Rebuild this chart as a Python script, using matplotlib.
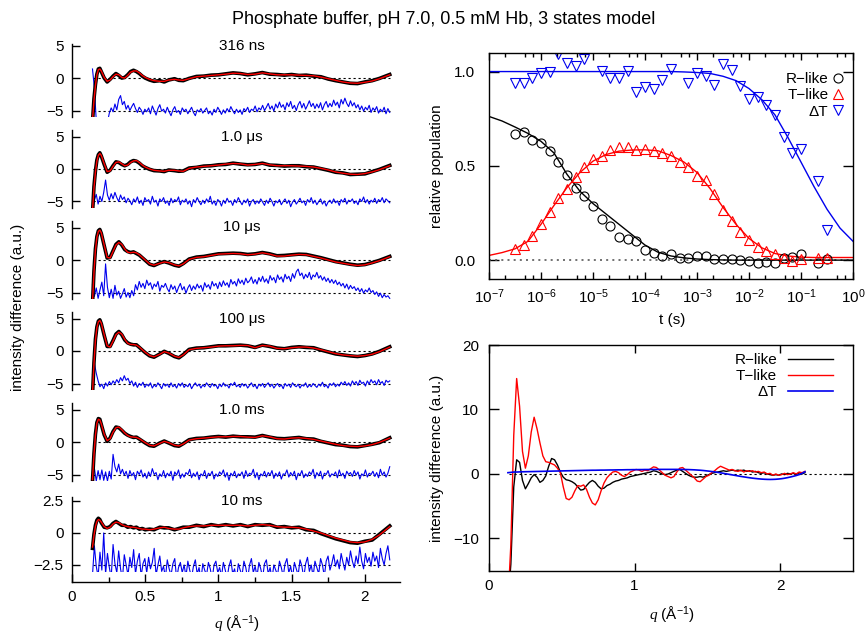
import matplotlib
matplotlib.use("Agg")
import matplotlib.pyplot as plt
import numpy as np
from matplotlib.patches import Rectangle
from matplotlib.ticker import LogLocator, MultipleLocator, NullFormatter

plt.rcParams["font.family"] = ["Liberation Sans", "DejaVu Sans"]
plt.rcParams["font.size"] = 11
plt.rcParams["mathtext.fontset"] = "custom"
plt.rcParams["mathtext.rm"] = "Liberation Sans"
plt.rcParams["mathtext.it"] = "Liberation Serif:italic"
plt.rcParams["axes.linewidth"] = 1.0

# ---- left column: difference curves at six delays ----
delay_labels = ["316 ns", "1.0 μs", "10 μs", "100 μs", "1.0 ms", "10 ms"]

q_sig = [0.14, 0.15, 0.16, 0.17, 0.18, 0.19, 0.20,
         0.22, 0.24, 0.26, 0.28, 0.30, 0.32, 0.34, 0.36, 0.38, 0.40, 0.42, 0.44, 0.46, 0.48, 0.50,
         0.53, 0.56, 0.60, 0.63, 0.66, 0.70, 0.73, 0.76, 0.80,
         0.85, 0.90, 0.95, 1.00, 1.05, 1.10, 1.15, 1.20, 1.25, 1.30, 1.35, 1.40, 1.45, 1.50,
         1.55, 1.60, 1.65, 1.70, 1.75, 1.80, 1.85, 1.90, 1.95, 2.00, 2.05, 2.10, 2.17]

# measured (black)
data_316ns = [-6.8, -3.2, -1.0, 0.6, 1.4, 1.5, 1.0, 0.0, -0.6, -0.2, 0.3, 0.7, 0.4, 0.0, 0.1, 0.5, 1.0, 1.2, 1.0, 0.7,
              0.3, 0.0, -0.3, -0.5, -0.4, -0.6, -0.3, -0.1, -0.35, -0.4, -0.05, 0.25, 0.3, 0.45, 0.5, 0.65, 0.8, 0.7,
              0.5, 0.65, 0.85, 0.6, 0.55, 0.45, 0.55, 0.4, 0.45, 0.3, 0.2, -0.15, -0.4, -0.6, -0.8, -0.85, -0.6, -0.4,
              -0.05, 0.55]
data_1us = [-6.8, -2.7, -0.3, 1.4, 2.2, 2.5, 2.0, 0.7, -0.5, -0.2, 0.5, 1.1, 1.0, 0.7, 0.5, 0.7, 1.1, 1.3, 1.2, 0.9,
            0.5, 0.25, -0.05, -0.25, -0.3, -0.4, -0.15, -0.25, -0.35, -0.3, 0.15, 0.25, 0.45, 0.5, 0.65, 0.7, 0.9, 0.75,
            0.65, 0.7, 0.9, 0.6, 0.55, 0.45, 0.5, 0.5, 0.35, 0.3, 0.05, -0.2, -0.5, -0.6, -0.85, -0.8, -0.75, -0.4,
            -0.05, 0.55]
data_10us = [-6.8, -1.7, 1.7, 3.6, 4.5, 4.7, 4.1, 2.2, 0.3, 0.4, 1.4, 2.4, 2.8, 2.3, 1.6, 1.3, 1.15, 1.25, 1.0, 0.75,
             0.35, -0.05, -0.65, -0.85, -0.45, -0.25, -0.45, -0.8, -0.95, -0.55, 0.15, 0.45, 0.55, 0.75, 0.95, 1.0,
             1.05, 1.0, 0.85, 0.95, 1.15, 0.95, 0.65, 0.7, 0.8, 0.9, 0.85, 0.6, 0.35, 0.05, -0.25, -0.45, -0.65, -0.8,
             -0.7, -0.4, -0.05, 0.55]
data_100us = [-6.8, -1.8, 1.8, 3.7, 4.6, 4.8, 4.2, 2.4, 0.7, 0.7, 1.6, 2.6, 3.0, 2.5, 1.7, 1.25, 1.05, 0.95, 0.95, 0.55,
              0.15, -0.25, -0.75, -0.95, -0.45, -0.05, -0.35, -0.85, -1.05, -0.55, 0.25, 0.45, 0.5, 0.65, 0.8, 0.8,
              0.85, 0.9, 0.8, 0.55, 0.9, 0.7, 0.45, 0.35, 0.55, 0.65, 0.55, 0.5, 0.15, -0.15, -0.45, -0.6, -0.75,
              -0.85, -0.7, -0.45, -0.05, 0.65]
data_1ms = [-6.0, -1.8, 1.2, 3.0, 3.6, 3.5, 2.7, 1.1, 0.1, 0.6, 1.6, 2.3, 2.2, 1.8, 1.35, 1.05, 0.85, 0.7, 0.75, 0.45,
            0.15, -0.15, -0.55, -0.65, -0.15, 0.15, -0.15, -0.55, -0.65, -0.25, 0.35, 0.55, 0.6, 0.75, 0.85, 0.75, 0.9,
            0.8, 0.8, 0.75, 1.0, 0.75, 0.55, 0.5, 0.6, 0.7, 0.5, 0.45, 0.1, -0.15, -0.4, -0.5, -0.7, -0.75, -0.55,
            -0.35, -0.1, 0.65]
data_10ms = [-1.2, -0.1, 0.6, 1.0, 1.15, 1.05, 0.8, 0.45, 0.4, 0.5, 0.75, 0.9, 0.75, 0.6, 0.6, 0.45, 0.5, 0.4, 0.45,
             0.3, 0.35, 0.25, 0.3, 0.25, 0.45, 0.4, 0.4, 0.25, 0.35, 0.45, 0.45, 0.6, 0.5, 0.65, 0.55, 0.65, 0.55,
             0.65, 0.5, 0.65, 0.6, 0.65, 0.45, 0.5, 0.4, 0.45, 0.25, 0.2, -0.05, -0.25, -0.45, -0.6, -0.75, -0.8,
             -0.65, -0.55, -0.1, 0.55]

# three-state fit (red)
fit_316ns = [-6.5, -3.5, -1.2, 0.5, 1.3, 1.4, 1.1, 0.1, -0.5, -0.3, 0.2, 0.6, 0.5, 0.1, 0.0, 0.4, 0.9, 1.1, 1.1, 0.8,
             0.4, 0.1, -0.2, -0.4, -0.5, -0.5, -0.3, -0.2, -0.3, -0.35, -0.1, 0.2, 0.3, 0.4, 0.5, 0.6, 0.75, 0.7,
             0.55, 0.6, 0.8, 0.65, 0.5, 0.5, 0.5, 0.45, 0.4, 0.35, 0.15, -0.1, -0.35, -0.6, -0.75, -0.8, -0.65,
             -0.45, -0.1, 0.5]
fit_1us = [-6.5, -3.0, -0.5, 1.2, 2.1, 2.4, 2.1, 0.8, -0.4, -0.3, 0.4, 1.0, 1.1, 0.8, 0.5, 0.6, 1.0, 1.25, 1.3, 1.0,
           0.6, 0.3, 0.0, -0.2, -0.3, -0.35, -0.2, -0.2, -0.3, -0.35, 0.1, 0.3, 0.4, 0.5, 0.6, 0.75, 0.85, 0.8, 0.6,
           0.7, 0.85, 0.65, 0.5, 0.5, 0.5, 0.45, 0.4, 0.3, 0.1, -0.15, -0.45, -0.65, -0.8, -0.85, -0.7, -0.45, -0.1,
           0.5]
fit_10us = [-6.5, -2.0, 1.5, 3.5, 4.4, 4.6, 4.2, 2.3, 0.4, 0.3, 1.3, 2.3, 2.7, 2.4, 1.7, 1.2, 1.1, 1.2, 1.1, 0.8,
            0.4, 0.0, -0.6, -0.8, -0.5, -0.3, -0.4, -0.75, -0.9, -0.6, 0.1, 0.4, 0.5, 0.7, 0.9, 0.95, 1.0, 0.95, 0.8,
            0.9, 1.1, 0.9, 0.6, 0.6, 0.75, 0.85, 0.8, 0.55, 0.3, 0.0, -0.3, -0.5, -0.7, -0.85, -0.75, -0.45, -0.1,
            0.5]
fit_100us = [-6.5, -2.0, 1.6, 3.6, 4.5, 4.7, 4.3, 2.5, 0.8, 0.6, 1.5, 2.5, 2.9, 2.6, 1.8, 1.2, 1.0, 1.0, 0.9, 0.6,
             0.2, -0.2, -0.7, -0.9, -0.5, -0.1, -0.3, -0.8, -1.0, -0.6, 0.2, 0.4, 0.5, 0.6, 0.75, 0.8, 0.8, 0.85,
             0.85, 0.5, 0.85, 0.75, 0.4, 0.35, 0.5, 0.6, 0.6, 0.45, 0.2, -0.1, -0.4, -0.6, -0.7, -0.8, -0.7, -0.5,
             -0.1, 0.6]
fit_1ms = [-5.8, -2.0, 1.0, 2.9, 3.5, 3.4, 2.8, 1.2, 0.2, 0.5, 1.5, 2.2, 2.3, 1.9, 1.4, 1.0, 0.8, 0.75, 0.7, 0.5,
           0.2, -0.1, -0.5, -0.6, -0.2, 0.1, -0.1, -0.5, -0.6, -0.3, 0.3, 0.5, 0.6, 0.7, 0.8, 0.8, 0.85, 0.85, 0.75,
           0.7, 0.95, 0.8, 0.5, 0.45, 0.6, 0.65, 0.55, 0.4, 0.15, -0.1, -0.35, -0.55, -0.65, -0.7, -0.6, -0.4,
           -0.05, 0.6]
fit_10ms = [-1.1, -0.2, 0.5, 0.9, 1.05, 1.0, 0.85, 0.5, 0.35, 0.45, 0.7, 0.85, 0.8, 0.65, 0.55, 0.5, 0.45, 0.45,
            0.4, 0.35, 0.3, 0.3, 0.25, 0.3, 0.4, 0.45, 0.35, 0.3, 0.3, 0.4, 0.5, 0.55, 0.55, 0.6, 0.6, 0.6, 0.6, 0.6,
            0.55, 0.6, 0.65, 0.6, 0.5, 0.45, 0.45, 0.4, 0.3, 0.15, 0.0, -0.2, -0.4, -0.55, -0.7, -0.75, -0.7, -0.5,
            -0.15, 0.5]

# residuals (blue), already shifted down by the plot offset
res_316ns = [1.4, -1.5, -6.5, -7.5, -7.5, -7.5, -7.5, -7.5, -6.8, -5.4,
             -4.6, -5.2, -4.0, -4.9, -3.3, -2.7, -4.1, -3.6, -4.8, -4.2,
             -5.0, -4.4, -3.9, -4.7, -5.3, -4.5, -4.9, -5.6, -4.8, -5.2,
             -4.6, -5.5, -4.3, -5.0, -5.7, -4.7, -4.1, -5.1, -4.8, -5.4,
             -4.5, -5.2, -5.8, -4.9, -4.4, -5.3, -5.0, -5.6, -4.6, -5.1,
             -4.8, -5.5, -5.0, -4.5, -5.3, -5.8, -4.9, -5.2, -4.7, -5.4,
             -5.0, -4.6, -5.5, -5.1, -5.7, -4.8, -5.3, -4.5, -5.0, -5.6,
             -4.9, -5.4, -4.7, -5.2, -4.4, -5.0, -5.5, -4.8, -5.3, -4.9,
             -5.6, -4.7, -5.1, -4.5, -5.3, -4.8, -5.0, -4.3, -5.2, -4.6,
             -4.9, -4.2, -5.0, -4.5, -3.9, -4.8, -4.3, -5.1, -4.0, -4.6,
             -3.7, -4.5, -4.1, -4.9, -3.8, -4.4, -3.6, -4.7, -4.2, -5.0,
             -4.1, -3.6, -4.6, -3.9, -4.8, -4.2, -3.5, -4.4, -3.9, -4.7,
             -4.0, -4.6, -3.8, -4.9, -4.1, -3.6, -4.5, -3.9, -4.4, -3.4,
             -4.2, -3.7, -4.6, -3.3, -4.0, -3.1, -3.9, -4.4, -3.5, -4.3,
             -3.8, -4.6, -4.1, -4.9, -4.3, -5.1, -4.5, -4.9, -4.2, -5.3,
             -4.6, -5.0, -4.4, -5.4, -4.8, -5.2, -4.5, -5.5, -4.7, -5.3]
res_1us = [-6.5, -4.8, -3.9, -5.4, -4.2, -5.0, -3.6, -1.7, -4.0, -4.8,
           -3.8, -4.6, -3.6, -4.4, -5.0, -4.0, -4.7, -4.3, -5.2, -4.5,
           -4.9, -5.5, -4.6, -5.1, -4.3, -5.3, -4.8, -5.6, -4.4, -5.0,
           -4.7, -5.4, -4.2, -5.1, -4.8, -5.7, -4.6, -5.0, -4.4, -5.3,
           -4.9, -5.6, -4.5, -5.2, -4.7, -5.0, -4.3, -5.5, -4.8, -5.1,
           -4.6, -5.4, -4.9, -5.8, -4.7, -5.2, -4.4, -5.0, -5.5, -4.8,
           -5.3, -4.6, -5.1, -4.2, -5.4, -4.9, -5.6, -4.7, -5.0, -5.7,
           -4.8, -5.3, -4.5, -5.1, -4.9, -5.6, -4.7, -5.2, -4.4, -5.0,
           -5.5, -4.8, -5.2, -4.6, -5.7, -5.0, -4.7, -5.4, -4.9, -5.3,
           -4.6, -5.1, -5.6, -4.8, -5.3, -4.5, -5.0, -5.7, -4.9, -5.2,
           -4.7, -5.5, -5.0, -4.6, -5.3, -4.8, -5.8, -5.1, -4.7, -5.4,
           -5.0, -4.5, -5.2, -4.9, -5.6, -4.7, -5.1, -4.4, -5.3, -4.8,
           -5.5, -5.0, -4.6, -5.4, -4.9, -5.7, -5.1, -4.8, -5.3, -4.6,
           -5.2, -4.9, -5.6, -4.7, -5.1, -4.5, -5.4, -4.8, -5.0, -4.6,
           -5.3, -4.9, -5.5, -4.6, -5.0, -4.3, -5.2, -4.7, -5.4, -4.8,
           -5.1, -4.5, -5.3, -4.7, -5.0, -4.4, -5.2, -4.6, -4.9, -5.2]
res_10us = [-3.8, -5.6, -4.3, -5.9, -4.6, -3.4, -5.5, -0.6, -4.2, -5.8,
            -4.5, -5.9, -3.9, -5.4, -4.8, -5.9, -5.2, -4.4, -5.7, -5.0,
            -5.8, -4.7, -5.5, -3.8, -4.6, -3.3, -4.2, -3.6, -4.4, -3.1,
            -3.9, -3.5, -4.5, -3.7, -4.1, -3.3, -4.8, -3.9, -4.2, -3.6,
            -4.4, -4.9, -3.8, -4.5, -4.0, -5.0, -4.2, -3.6, -4.6, -4.1,
            -5.1, -4.3, -3.8, -4.7, -4.0, -4.5, -3.7, -4.3, -3.9, -4.8,
            -3.5, -4.2, -3.8, -4.5, -3.3, -4.0, -3.6, -4.4, -3.4, -4.1,
            -3.2, -3.9, -3.5, -4.2, -3.0, -3.7, -3.3, -4.0, -2.9, -3.6,
            -3.1, -3.8, -2.8, -3.5, -3.2, -2.6, -3.6, -3.0, -3.7, -2.7,
            -3.3, -2.5, -3.4, -2.9, -3.6, -2.4, -3.1, -2.7, -3.5, -2.3,
            -3.0, -2.6, -3.4, -2.2, -2.9, -2.5, -3.3, -2.1, -2.8, -1.8,
            -1.4, -2.4, -2.0, -2.9, -2.2, -2.7, -1.9, -3.0, -2.3, -2.6,
            -1.9, -2.8, -2.4, -3.1, -2.6, -3.3, -2.8, -3.5, -3.0, -3.6,
            -3.1, -3.8, -3.4, -4.0, -3.6, -4.3, -3.7, -4.5, -3.9, -4.4,
            -4.1, -4.7, -4.3, -4.9, -4.4, -5.1, -4.6, -4.9, -4.3, -5.0,
            -4.7, -5.3, -4.9, -5.6, -5.1, -5.8, -5.3, -5.7, -5.5, -5.9]
res_100us = [-3.6, -1.9, -3.4, -4.6, -5.5, -5.1, -5.8, -4.9, -5.4, -4.7,
             -5.2, -4.6, -5.0, -4.4, -4.9, -4.1, -4.6, -3.8, -4.5, -4.2,
             -5.0, -4.6, -5.4, -4.8, -5.6, -5.0, -5.3, -4.8, -5.6, -5.1,
             -5.4, -4.9, -5.7, -5.2, -5.5, -4.9, -5.3, -5.8, -5.0, -5.4,
             -5.1, -5.6, -4.9, -5.5, -5.2, -5.7, -5.0, -5.4, -4.9, -5.6,
             -5.2, -5.5, -5.0, -5.8, -5.3, -4.9, -5.4, -5.1, -5.7, -5.2,
             -5.5, -4.9, -5.3, -5.6, -5.0, -5.4, -5.2, -5.8, -5.1, -5.5,
             -4.9, -5.4, -5.2, -5.7, -5.0, -5.3, -4.8, -5.5, -5.2, -5.6,
             -5.0, -5.4, -5.1, -5.7, -5.3, -4.9, -5.5, -5.2, -5.8, -5.1,
             -5.4, -5.0, -5.6, -5.2, -4.9, -5.5, -5.1, -5.7, -5.3, -5.0,
             -5.5, -5.2, -5.8, -5.0, -5.4, -5.1, -5.6, -4.9, -5.3, -5.5,
             -5.1, -5.7, -5.2, -5.4, -4.9, -5.6, -5.2, -5.5, -5.0, -5.3,
             -5.6, -5.1, -5.4, -4.8, -5.5, -5.2, -5.7, -5.0, -5.3, -4.9,
             -5.5, -5.1, -5.4, -4.8, -5.2, -4.7, -5.3, -4.9, -5.4, -4.6,
             -5.1, -4.7, -5.3, -4.5, -5.0, -4.8, -5.4, -4.6, -5.1, -4.4,
             -4.9, -4.6, -5.2, -4.4, -5.0, -4.7, -5.3, -4.5, -4.8, -4.6]
res_1ms = [-5.5, -4.0, -6.0, -4.4, -5.8, -4.3, -5.9, -4.6, -6.0, -4.5,
           -5.7, -1.9, -3.8, -4.6, -3.4, -4.9, -4.2, -5.1, -4.5, -5.6,
           -4.4, -5.2, -4.7, -5.8, -4.5, -5.0, -4.3, -5.4, -4.8, -5.6,
           -4.6, -5.3, -4.1, -5.0, -4.7, -5.8, -4.9, -5.3, -4.4, -5.5,
           -4.8, -5.2, -4.5, -5.9, -4.6, -5.1, -4.3, -5.6, -4.9, -5.4,
           -4.7, -5.0, -4.2, -5.5, -4.8, -5.3, -4.6, -5.8, -4.9, -5.2,
           -4.4, -5.6, -4.8, -5.1, -4.5, -5.7, -4.9, -5.3, -4.6, -5.0,
           -4.3, -5.4, -4.7, -5.9, -4.8, -5.2, -4.5, -5.5, -4.9, -5.1,
           -4.6, -5.6, -4.4, -5.3, -4.8, -5.0, -4.2, -5.5, -4.7, -5.8,
           -4.9, -5.2, -4.5, -5.4, -4.7, -5.1, -4.4, -5.6, -4.8, -5.3,
           -4.6, -5.7, -4.9, -5.0, -4.3, -5.4, -4.7, -5.2, -4.5, -5.8,
           -4.8, -5.1, -4.4, -5.5, -4.9, -5.3, -4.6, -5.0, -4.2, -5.6,
           -4.7, -5.2, -4.5, -5.7, -4.8, -5.0, -4.4, -5.4, -4.9, -5.1,
           -4.6, -5.5, -4.3, -5.2, -4.8, -5.6, -4.5, -5.0, -4.7, -5.3,
           -4.4, -5.1, -4.6, -5.7, -4.9, -5.2, -4.3, -5.4, -4.8, -5.0,
           -4.5, -5.3, -4.7, -5.5, -4.2, -5.1, -4.6, -5.4, -4.8, -3.8]
res_10ms = [-3.3, -1.0, -2.6, -3.4, -1.5, -2.9, 0.0, -3.2, -1.6, -2.7,
            -3.5, -0.9, -2.4, -3.1, -1.4, -2.8, -3.6, -1.7, -2.5, -3.3,
            -1.9, -2.7, -1.3, -3.2, -2.2, -1.6, -3.4, -2.4, -2.0, -3.1,
            -1.9, -2.8, -2.3, -1.2, -3.3, -2.5, -1.8, -3.0, -2.6, -3.5,
            -2.1, -2.8, -3.3, -2.4, -2.0, -3.6, -2.7, -2.3, -3.1, -2.5,
            -3.4, -2.2, -2.9, -3.5, -2.6, -2.1, -3.2, -2.7, -3.7, -2.4,
            -2.9, -3.3, -2.3, -2.8, -3.6, -2.5, -2.2, -3.1, -2.7, -3.4,
            -2.3, -2.9, -3.5, -2.6, -2.1, -3.2, -2.8, -3.7, -2.4, -2.9,
            -3.3, -2.2, -2.7, -3.6, -2.5, -2.0, -3.1, -2.6, -3.4, -2.3,
            -2.8, -3.5, -2.4, -2.1, -3.2, -2.7, -3.6, -2.5, -2.9, -3.3,
            -2.2, -2.7, -3.4, -2.4, -2.0, -3.1, -2.6, -3.5, -2.3, -2.8,
            -3.3, -2.1, -2.6, -3.5, -2.4, -1.9, -3.0, -2.5, -3.4, -2.2,
            -2.7, -3.2, -2.0, -2.5, -3.4, -2.2, -1.8, -2.9, -2.4, -1.7,
            -2.6, -2.1, -2.8, -1.6, -2.3, -2.9, -1.9, -2.5, -1.4, -2.2,
            -2.7, -1.8, -2.4, -1.1, -2.2, -2.8, -1.6, -2.3, -1.9, -2.6,
            -1.5, -2.2, -1.8, -2.7, -1.2, -2.0, -2.5, -1.6, -1.0, -2.1]

data_sets = [data_316ns, data_1us, data_10us, data_100us, data_1ms, data_10ms]
fit_sets = [fit_316ns, fit_1us, fit_10us, fit_100us, fit_1ms, fit_10ms]
res_sets = [res_316ns, res_1us, res_10us, res_100us, res_1ms, res_10ms]
res_levels = [-5, -5, -5, -5, -5, -2.5]

# ---- top right: relative populations ----
t_pts = [3.16e-7, 4.64e-7, 6.81e-7, 1.0e-6, 1.47e-6, 2.15e-6, 3.16e-6, 4.64e-6, 6.81e-6,
         1.0e-5, 1.47e-5, 2.15e-5, 3.16e-5, 4.64e-5, 6.81e-5, 1.0e-4, 1.47e-4, 2.15e-4,
         3.16e-4, 4.64e-4, 6.81e-4, 1.0e-3, 1.47e-3, 2.15e-3, 3.16e-3, 4.64e-3, 6.81e-3,
         1.0e-2, 1.47e-2, 2.15e-2, 3.16e-2, 4.64e-2, 6.81e-2, 0.1, 0.215, 0.316]
pop_R = [0.669, 0.679, 0.639, 0.621, 0.58, 0.519, 0.453, 0.383, 0.339, 0.286, 0.22, 0.18,
         0.124, 0.113, 0.10, 0.053, 0.039, 0.021, 0.035, 0.009, 0.011, 0.021, 0.021, 0.004,
         0.007, 0.004, 0.0, -0.005, -0.017, -0.011, -0.014, 0.009, 0.018, 0.03, -0.014, 0.004]
pop_T = [0.06, 0.079, 0.127, 0.193, 0.256, 0.33, 0.379, 0.441, 0.494, 0.536, 0.554, 0.586,
         0.60, 0.60, 0.586, 0.591, 0.58, 0.568, 0.55, 0.519, 0.494, 0.448, 0.423, 0.351,
         0.265, 0.206, 0.148, 0.106, 0.071, 0.048, 0.03, 0.013, -0.005, 0.004, 0.009, 0.009]
pop_dT = [0.94, 0.94, 0.965, 0.995, 1.0, 1.094, 1.044, 1.03, 1.066, np.nan, 1.004, 0.965,
          0.968, 1.005, 0.889, 0.92, 0.907, 0.956, 1.013, np.nan, 0.94, 0.995, 0.977, 0.93,
          1.04, 1.01, 0.925, 0.855, 0.865, 0.824, 0.77, 0.653, 0.568, 0.59, 0.42, 0.16]

t_fit = np.logspace(-7, 0, 29)
popfit_R = [0.762, 0.738, 0.706, 0.672, 0.630, 0.568, 0.455, 0.365, 0.300, 0.245, 0.190, 0.135,
            0.080, 0.042, 0.022, 0.012, 0.006, 0.003, 0.001, 0, 0, 0, 0, 0, 0, 0, 0, 0, 0]
popfit_T = [0.025, 0.04, 0.06, 0.10, 0.19, 0.29, 0.385, 0.465, 0.525, 0.56, 0.578, 0.584,
            0.585, 0.58, 0.555, 0.52, 0.465, 0.38, 0.28, 0.19, 0.115, 0.065, 0.035, 0.022,
            0.016, 0.014, 0.014, 0.014, 0.014]
popfit_dT = [1.0, 1.0, 1.0, 1.0, 1.0, 1.0, 1.0, 1.0, 1.0, 1.0, 1.0, 1.0, 1.0, 1.0, 1.0,
             0.998, 0.995, 0.99, 0.975, 0.952, 0.91, 0.85, 0.77, 0.65, 0.52, 0.39, 0.27, 0.17, 0.10]

# ---- bottom right: species difference curves ----
comp_R = [-20, -14, -2, 2.2, 1.8, -1.0, -2.3, -1.5, -0.6, -0.1,
          -0.5, -1.3, -1.0, -0.3, 1.2, 2.4, 2.2, 1.4, 0.3, -0.5,
          -0.9, -1.0, -1.2, -1.5, -2.0, -2.5, -2.4, -1.8, -1.3, -1.0,
          -1.3, -1.9, -2.3, -2.2, -1.8, -1.6, -1.3, -1.1, -1.0, -0.8,
          -0.7, -0.6, -0.4, -0.3, -0.2, -0.1, 0.0, 0.1, 0.2, 0.3,
          0.5, 0.4, 0.2, 0.0, -0.1, 0.0, 0.2, 0.4, 0.6, 0.7,
          0.4, 0.1, -0.2, -0.4, -0.5, -0.5, -0.4, -0.5, -0.3, -0.1,
          0.1, 0.2, 0.3, 0.4, 0.5, 0.4, 0.5, 0.6, 0.5, 0.6,
          0.5, 0.6, 0.4, 0.5, 0.3, 0.4, 0.2, 0.1, 0.2, 0.0,
          -0.1, -0.2, -0.1, -0.2, 0.0, -0.1, 0.1, 0.0, 0.1, -0.1,
          0.2, 0.0, 0.2]
comp_T = [-20, -11, 6, 14.8, 10.5, 3.5, 0.9, 2.8, 6.5, 8.8,
          7.0, 4.8, 2.8, 1.9, 1.8, 1.6, 1.4, 0.9, 0.2, -2.0,
          -3.8, -4.0, -3.6, -2.6, -1.8, -1.9, -1.7, -2.4, -3.6, -4.5,
          -4.8, -4.0, -2.6, -1.4, -0.6, -0.1, 0.3, 0.4, 0.2, -0.2,
          -0.4, -0.1, 0.3, 0.5, 0.7, 0.6, 0.4, 0.6, 0.5, 0.8,
          1.1, 1.0, 0.6, 0.2, -0.2, -0.4, -0.6, -0.4, 0.3, 0.9,
          1.0, 0.6, 0.2, -0.2, -0.6, -1.1, -1.2, -0.8, -0.4, -0.2,
          0.2, 0.5, 0.9, 1.2, 1.0, 0.8, 0.6, 0.7, 0.5, 0.4,
          0.6, 0.3, 0.5, 0.4, 0.5, 0.3, 0.4, 0.2, 0.3, 0.0,
          0.1, -0.2, 0.0, -0.2, -0.1, 0.1, -0.1, 0.0, 0.2, 0.0,
          0.3, 0.2, 0.4]
comp_dT = [0.2, 0.25, 0.3, 0.3, 0.32, 0.34, 0.35, 0.36, 0.37, 0.38,
           0.39, 0.4, 0.41, 0.42, 0.43, 0.44, 0.45, 0.46, 0.47, 0.48,
           0.49, 0.5, 0.51, 0.52, 0.53, 0.54, 0.55, 0.56, 0.57, 0.58,
           0.58, 0.59, 0.6, 0.6, 0.61, 0.62, 0.62, 0.63, 0.64, 0.64,
           0.65, 0.66, 0.66, 0.67, 0.67, 0.68, 0.68, 0.69, 0.69, 0.7,
           0.7, 0.7, 0.71, 0.71, 0.71, 0.71, 0.71, 0.71, 0.71, 0.7,
           0.7, 0.69, 0.68, 0.66, 0.64, 0.61, 0.58, 0.54, 0.49, 0.44,
           0.38, 0.32, 0.25, 0.18, 0.1, 0.02, -0.06, -0.14, -0.22, -0.3,
           -0.38, -0.45, -0.52, -0.59, -0.65, -0.7, -0.75, -0.79, -0.82, -0.84,
           -0.85, -0.84, -0.82, -0.78, -0.73, -0.66, -0.57, -0.47, -0.36, -0.24,
           -0.1, 0.1, 0.35]
q_comp = np.linspace(0.13, 2.17, len(comp_T))

W, H = 866, 633
fig = plt.figure(figsize=(W / 100, H / 100), dpi=100)
dash = (0, (2, 2.5))

# left column
panel_px = [(44, 117), (130, 208), (221, 299), (312, 390), (403, 481), (497, 582)]
ylims = [(-6, 5.25), (-6, 6), (-6, 6), (-6, 6), (-6, 6), (-3.83, 2.81)]
for i, (top, bot) in enumerate(panel_px):
    ax = fig.add_axes([72 / W, 1 - bot / H, 328 / W, (bot - top) / H])
    ax.set_xlim(0, 2.24)
    ax.set_ylim(*ylims[i])
    for s in ("top", "right"):
        ax.spines[s].set_visible(False)
    ax.hlines([0, res_levels[i]], q_sig[0], q_sig[-1], colors="k", linestyles=dash, lw=0.8)
    q_res = np.linspace(0.14, 2.17, len(res_sets[i]))
    ln, = ax.plot(q_res, res_sets[i], color="#0000ee", lw=0.8)
    if i == 5:
        ln.set_clip_path(Rectangle((0, -3.05), 3, 10, transform=ax.transData))
    ax.plot(q_sig, data_sets[i], color="k", lw=2.6)
    ax.plot(q_sig, fit_sets[i], color="#ff0000", lw=1.0)
    lvl = 2.5 if i == 5 else 5
    ax.text(1.16, lvl, delay_labels[i], ha="center", va="center")
    ax.set_yticks([-lvl, 0, lvl])
    if i == 5:
        ax.set_yticklabels(["−2.5", "0", "2.5"])
    ax.tick_params(axis="y", direction="in", length=5.5, width=1, pad=6)
    if i < 5:
        ax.spines["bottom"].set_visible(False)
        ax.tick_params(axis="x", bottom=False, labelbottom=False)
    else:
        ax.set_xticks([0, 0.5, 1, 1.5, 2])
        ax.set_xticklabels(["0", "0.5", "1", "1.5", "2"])
        ax.xaxis.set_minor_locator(MultipleLocator(0.25))
        ax.tick_params(axis="x", which="major", direction="in", length=6, width=1, pad=6)
        ax.tick_params(axis="x", which="minor", direction="in", length=3.5, width=1)

fig.text(18 / W, 1 - 307 / H, "intensity difference (a.u.)", rotation=90, ha="center", va="center")
fig.text(237 / W, 1 - 623 / H, r"$q$ (Å$^{-1}$)", ha="center", va="center")

# top right
axt = fig.add_axes([489 / W, 1 - 279 / H, 364 / W, 226.3 / H])
axt.set_xscale("log")
axt.set_xlim(1e-7, 1)
axt.set_ylim(-0.1, 1.1)
axt.axhline(0, color="0.35", ls=(0, (1.2, 2.5)), lw=1.2)
axt.plot(t_fit, popfit_R, color="k", lw=1)
axt.plot(t_fit, popfit_T, color="#ff0000", lw=1)
axt.plot(t_fit, popfit_dT, color="#0000ee", lw=1)
axt.plot(t_pts, pop_R, ls="none", marker="o", ms=6.5, mfc="none", mec="k", mew=0.8, label="R−like")
axt.plot(t_pts, pop_T, ls="none", marker="^", ms=6.5, mfc="none", mec="#ff0000", mew=0.8, label="T−like")
axt.plot(t_pts, pop_dT, ls="none", marker="v", ms=6.5, mfc="none", mec="#0000ee", mew=0.8, label="ΔT")
axt.set_yticks([0, 0.5, 1.0])
axt.xaxis.set_major_locator(LogLocator(base=10, numticks=10))
axt.xaxis.set_minor_locator(LogLocator(base=10, subs=(2, 5, 7), numticks=10))
axt.xaxis.set_minor_formatter(NullFormatter())
axt.tick_params(axis="both", which="both", direction="in", top=True, right=True, width=1)
axt.tick_params(axis="y", length=7.5, pad=10)
axt.tick_params(axis="x", which="major", length=5, pad=6)
axt.tick_params(axis="x", which="minor", length=3)
axt.legend(loc="upper right", bbox_to_anchor=(0.97, 0.915), markerfirst=False, frameon=False,
           handlelength=0.5, handletextpad=0.4, labelspacing=0.15, borderpad=0, borderaxespad=0)
fig.text(437 / W, 1 - 166 / H, "relative population", rotation=90, ha="center", va="center")
fig.text(672 / W, 1 - 320 / H, "t (s)", ha="center", va="center")

# bottom right
axb = fig.add_axes([489 / W, 1 - 570.7 / H, 364 / W, 225.7 / H])
axb.set_xlim(0, 2.5)
axb.set_ylim(-15, 20)
axb.hlines(0, 0.14, 2.45, colors="k", linestyles=dash, lw=0.8)
axb.plot(q_comp, comp_R, color="k", lw=1, label="R−like")
axb.plot(q_comp, comp_T, color="#ff0000", lw=1, label="T−like")
axb.plot(q_comp, comp_dT, color="#0000ee", lw=1.2, label="ΔT")
axb.set_xticks([0, 1, 2])
axb.set_yticks([-10, 0, 10, 20])
axb.tick_params(axis="both", direction="in", top=True, right=True, width=1)
axb.tick_params(axis="y", length=7.5, pad=7)
axb.tick_params(axis="x", length=5.5, pad=6)
axb.legend(loc="upper right", bbox_to_anchor=(0.945, 0.965), markerfirst=False, frameon=False,
           handlelength=2.95, handletextpad=0.7, labelspacing=0.15, borderpad=0, borderaxespad=0)
fig.text(437 / W, 1 - 458 / H, "intensity difference (a.u.)", rotation=90, ha="center", va="center")
fig.text(672 / W, 1 - 614 / H, r"$q$ (Å$^{-1}$)", ha="center", va="center")

fig.text(444 / W, 1 - 20 / H, "Phosphate buffer, pH 7.0, 0.5 mM Hb, 3 states model",
         ha="center", va="center", fontsize=13)

fig.savefig("out.png", dpi=100)
